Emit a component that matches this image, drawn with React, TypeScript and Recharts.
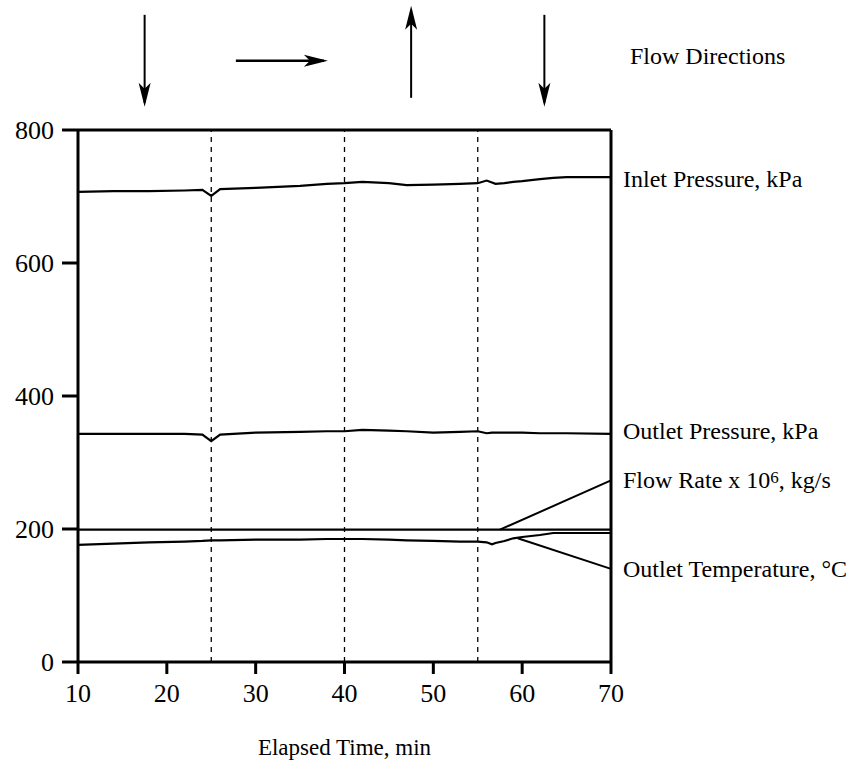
import React from "react";
import {
  LineChart,
  Line,
  XAxis,
  YAxis,
  ReferenceLine,
  ReferenceDot,
} from "recharts";

// elapsed time samples (min)
const times = [10, 14, 18, 22, 24, 25, 26, 30, 35, 38, 40, 42, 45, 47, 50, 53, 55, 56, 56.6, 57, 58, 59, 60, 62, 63.5, 65, 70];
const inletPressure = [707, 708, 708, 709, 710, 701, 711, 713, 716, 719, 720, 722, 720, 717, 718, 719, 720, 724, 721, 719, 720, 722, 723, 726, 728, 729, 729];
const outletPressure = [343, 343, 343, 343, 342, 332, 342, 345, 346, 347, 347, 349, 348, 347, 345, 346, 347, 344, 345, 345, 345, 345, 345, 344, 344, 344, 343];
const flowRate = [199, 199, 199, 199, 199, 199, 199, 199, 199, 199, 199, 199, 199, 199, 199, 199, 199, 199, 199, 199, 199, 199, 199, 199, 199, 199, 199];
const outletTemp = [176, 178, 180, 181, 182, 183, 183, 184, 184, 185, 185, 185, 184, 183, 182, 181, 181, 180, 177, 179, 182, 186, 188, 191, 194, 194, 194];

const xTicks = [10, 20, 30, 40, 50, 60, 70];
const yTicks = [0, 200, 400, 600, 800];

// times where the flow direction was switched
const switchTimes = [25, 40, 55];
// one arrow per flow period, centred in the period
const flowArrows = [
  { time: 17.5, dir: "down" },
  { time: 32.5, dir: "right" },
  { time: 47.5, dir: "up" },
  { time: 62.5, dir: "down" },
];
const ARROW_LEVEL = 904;

// series names at the right edge, placed at a y value
const seriesLabels = [
  { text: "Inlet Pressure, kPa", y: 726 },
  { text: "Outlet Pressure, kPa", y: 347 },
  { text: "Flow Rate x 10|6|,  kg/s", y: 273 },
  { text: "Outlet Temperature, °C", y: 140 },
];
// leader lines from a curve to its label
const leaders = [
  { from: [57.5, 199], to: [70, 273] },
  { from: [59.5, 186], to: [70, 140] },
];

const data = times.map((t, i) => ({
  t,
  inlet: inletPressure[i],
  outlet: outletPressure[i],
  flow: flowRate[i],
  temp: outletTemp[i],
}));

const FONT = "'Liberation Serif', 'Times New Roman', serif";

function Arrow({ cx, cy, dir }: { cx: number; cy: number; dir: string }) {
  const half = 46;
  const head = 24;
  const w = 6;
  if (dir === "right") {
    const x0 = cx + 4;
    const x2 = x0 + half;
    return (
      <g>
        <line x1={x0 - half} y1={cy} x2={x2 - 4} y2={cy} stroke="#000" strokeWidth={2.5} />
        <path d={`M${x2},${cy} L${x2 - head},${cy - w} L${x2 - head + 6},${cy} L${x2 - head},${cy + w} Z`} fill="#000" />
      </g>
    );
  }
  const sign = dir === "down" ? 1 : -1;
  const c = dir === "up" ? cy - 9 : cy;
  const tip = c + sign * half;
  return (
    <g>
      <line x1={cx} y1={c - sign * half} x2={cx} y2={tip - sign * 4} stroke="#000" strokeWidth={2} />
      <path
        d={`M${cx},${tip} L${cx - w},${tip - sign * head} L${cx},${tip - sign * (head - 6)} L${cx + w},${tip - sign * head} Z`}
        fill="#000"
      />
    </g>
  );
}

function SeriesLabel({ cx, cy, text }: { cx: number; cy: number; text: string }) {
  const parts = text.split("|");
  return (
    <text x={cx + 12} y={cy + 8} fontFamily={FONT} fontSize={24} fill="#000">
      {parts.length === 3 ? (
        <>
          {parts[0]}
          <tspan dy={-5} fontSize={17}>{parts[1]}</tspan>
          <tspan dy={5}>{parts[2]}</tspan>
        </>
      ) : (
        text
      )}
    </text>
  );
}

export default function App() {
  return (
    <div style={{ position: "absolute", left: 0, top: 0, width: 858, height: 765, background: "#fff" }}>
      <LineChart
        width={858}
        height={765}
        data={data}
        margin={{ top: 130, right: 247, left: 0, bottom: 0 }}
      >
        <XAxis
          dataKey="t"
          type="number"
          domain={[10, 70]}
          ticks={xTicks}
          allowDataOverflow
          stroke="#000"
          strokeWidth={3}
          tickSize={12}
          tickMargin={10}
          height={103}
          tick={{ fill: "#000", fontSize: 26, fontFamily: FONT }}
          label={{
            value: "Elapsed Time, min",
            position: "insideBottom",
            offset: 10,
            fill: "#000",
            fontSize: 23,
            fontFamily: FONT,
          }}
        />
        <YAxis
          type="number"
          domain={[0, 800]}
          ticks={yTicks}
          allowDataOverflow
          stroke="#000"
          strokeWidth={3}
          tickSize={16}
          tickMargin={8}
          width={78}
          tick={{ fill: "#000", fontSize: 26, fontFamily: FONT }}
        />
        {/* box: top and right edges */}
        <ReferenceLine y={800} stroke="#000" strokeWidth={3} />
        <ReferenceLine x={70} stroke="#000" strokeWidth={3} />
        {switchTimes.map((t) => (
          <ReferenceLine key={t} x={t} stroke="#000" strokeWidth={1.3} strokeDasharray="5 5" />
        ))}
        <Line dataKey="inlet" stroke="#000" strokeWidth={2.2} dot={false} isAnimationActive={false} />
        <Line dataKey="outlet" stroke="#000" strokeWidth={2.2} dot={false} isAnimationActive={false} />
        <Line dataKey="flow" stroke="#000" strokeWidth={2.2} dot={false} isAnimationActive={false} />
        <Line dataKey="temp" stroke="#000" strokeWidth={2.2} dot={false} isAnimationActive={false} />
        {leaders.map((l, i) => (
          <ReferenceLine
            key={i}
            segment={[
              { x: l.from[0], y: l.from[1] },
              { x: l.to[0], y: l.to[1] },
            ]}
            stroke="#000"
            strokeWidth={2}
          />
        ))}
        {seriesLabels.map((s) => (
          <ReferenceDot
            key={s.text}
            x={70}
            y={s.y}
            r={0}
            ifOverflow="visible"
            shape={(p: any) => <SeriesLabel cx={p.cx} cy={p.cy} text={s.text} />}
          />
        ))}
        {flowArrows.map((a) => (
          <ReferenceDot
            key={a.time}
            x={a.time}
            y={ARROW_LEVEL}
            r={0}
            ifOverflow="visible"
            shape={(p: any) => <Arrow cx={p.cx} cy={p.cy} dir={a.dir} />}
          />
        ))}
      </LineChart>
      <div
        style={{
          position: "absolute",
          left: 630,
          top: 43,
          fontFamily: FONT,
          fontSize: 24,
          lineHeight: "26px",
          color: "#000",
          whiteSpace: "nowrap",
        }}
      >
        Flow Directions
      </div>
    </div>
  );
}
